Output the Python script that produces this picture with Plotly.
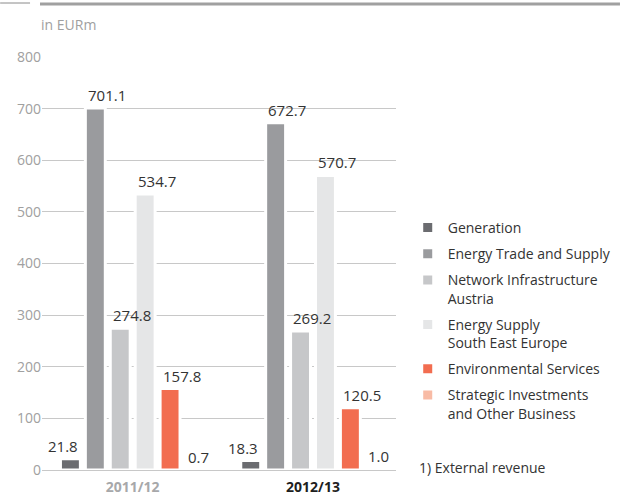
import plotly.graph_objects as go

years = ["2011/12", "2012/13"]
year_colors = ["#a7a8aa", "#1e1e1e"]
segments = ["Generation", "Energy Trade and Supply", "Network Infrastructure<br>Austria",
            "Energy Supply<br>South East Europe", "Environmental Services",
            "Strategic Investments<br>and Other Business"]
generation = [21.8, 18.3]
energy_trade = [701.1, 672.7]
network_austria = [274.8, 269.2]
energy_see = [534.7, 570.7]
environmental = [157.8, 120.5]
strategic = [0.7, 1.0]
series = [generation, energy_trade, network_austria, energy_see, environmental, strategic]
colors = ["#6b6c70", "#9a9b9e", "#c6c7c9", "#e5e6e7", "#f26d50", "#f8bba5"]
y_ticks = [0, 100, 200, 300, 400, 500, 600, 700, 800]

W, H = 622, 502
ML, MR, MT, MB = 42, 6, 57, 32
AX_RIGHT = 397
pw = W - ML - MR
ph = H - MT - MB
ax_w = AX_RIGHT - ML
FONT = "Open Sans"

def px_x(p):
    return (p - ML) / pw

def px_y(p):
    return (H - MB - p) / ph

fig = go.Figure()
for name, vals, col in zip(segments, series, colors):
    fig.add_trace(go.Bar(
        x=years, y=vals, name=name,
        marker=dict(color=col, line=dict(color="white", width=3)),
        legendgroup=name,
    ))

# value labels
xr = [-0.503, 1.459]
cat_px = ax_w / (xr[1] - xr[0])
group_px = cat_px * (1 - 0.171)
slot = group_px / len(series)
ann = []
for i, vals in enumerate(series):
    center = (i - (len(series) - 1) / 2) * slot
    half = slot * 0.8 / 2 - 1.5
    for yr, v in zip(years, vals):
        if i == 0:
            ann.append(dict(x=yr, y=v, text=f"{v:.1f}", showarrow=False, xanchor="right",
                            yanchor="bottom", xshift=center + half + 1, yshift=1,
                            font=dict(size=15, color="#333333", family=FONT)))
        else:
            ann.append(dict(x=yr, y=v, text=f"{v:.1f}", showarrow=False, xanchor="left",
                            yanchor="bottom", xshift=center - half - 1, yshift=1,
                            font=dict(size=15, color="#333333", family=FONT)))

ann.append(dict(xref="paper", yref="paper", x=px_x(39), y=px_y(24), text="in EURm",
                showarrow=False, xanchor="left", yanchor="middle",
                font=dict(size=14, color="#a0a0a0", family=FONT)))
ann.append(dict(xref="paper", yref="paper", x=px_x(418), y=px_y(467), text="1) External revenue",
                showarrow=False, xanchor="left", yanchor="middle",
                font=dict(size=14, color="#333333", family=FONT)))

shapes = [
    dict(type="line", xref="paper", yref="paper", x0=px_x(0), x1=px_x(30), y0=px_y(3), y1=px_y(3),
         line=dict(color="#8a8a8a", width=1)),
    dict(type="line", xref="paper", yref="paper", x0=px_x(40), x1=px_x(622), y0=px_y(4), y1=px_y(4),
         line=dict(color="#a0a0a0", width=3)),
]

ticktext = [f"<b><span style='color:{c}'>{y}</span></b>" for y, c in zip(years, year_colors)]

fig.update_layout(
    width=W, height=H, autosize=False,
    margin=dict(l=ML, r=MR, t=MT, b=MB),
    paper_bgcolor="white", plot_bgcolor="white",
    barmode="group", bargap=0.171, bargroupgap=0.2,
    font=dict(family=FONT, size=14, color="#333333"),
    xaxis=dict(type="category", range=xr, domain=[0, ax_w / pw], tickmode="array",
               tickvals=years, ticktext=ticktext, showgrid=False, showline=False, ticks="",
               ticklabelstandoff=7, automargin=False, tickfont=dict(size=14, family=FONT)),
    yaxis=dict(range=[0, 800], tickvals=y_ticks, showgrid=True, gridcolor="#c8c8c8",
               gridwidth=1, zeroline=True, zerolinecolor="#c8c8c8", zerolinewidth=1,
               showline=False, ticks="", automargin=False,
               tickfont=dict(size=14, color="#a0a0a0", family=FONT)),
    legend=dict(x=px_x(409), y=px_y(212), xanchor="left", yanchor="top",
                font=dict(size=14, color="#333333", family=FONT),
                tracegroupgap=5, valign="top", traceorder="grouped",
                bgcolor="rgba(0,0,0,0)"),
    annotations=ann, shapes=shapes,
)

fig.write_html("out.html", config={"displayModeBar": False},
               post_script="document.body.style.margin='0';")
